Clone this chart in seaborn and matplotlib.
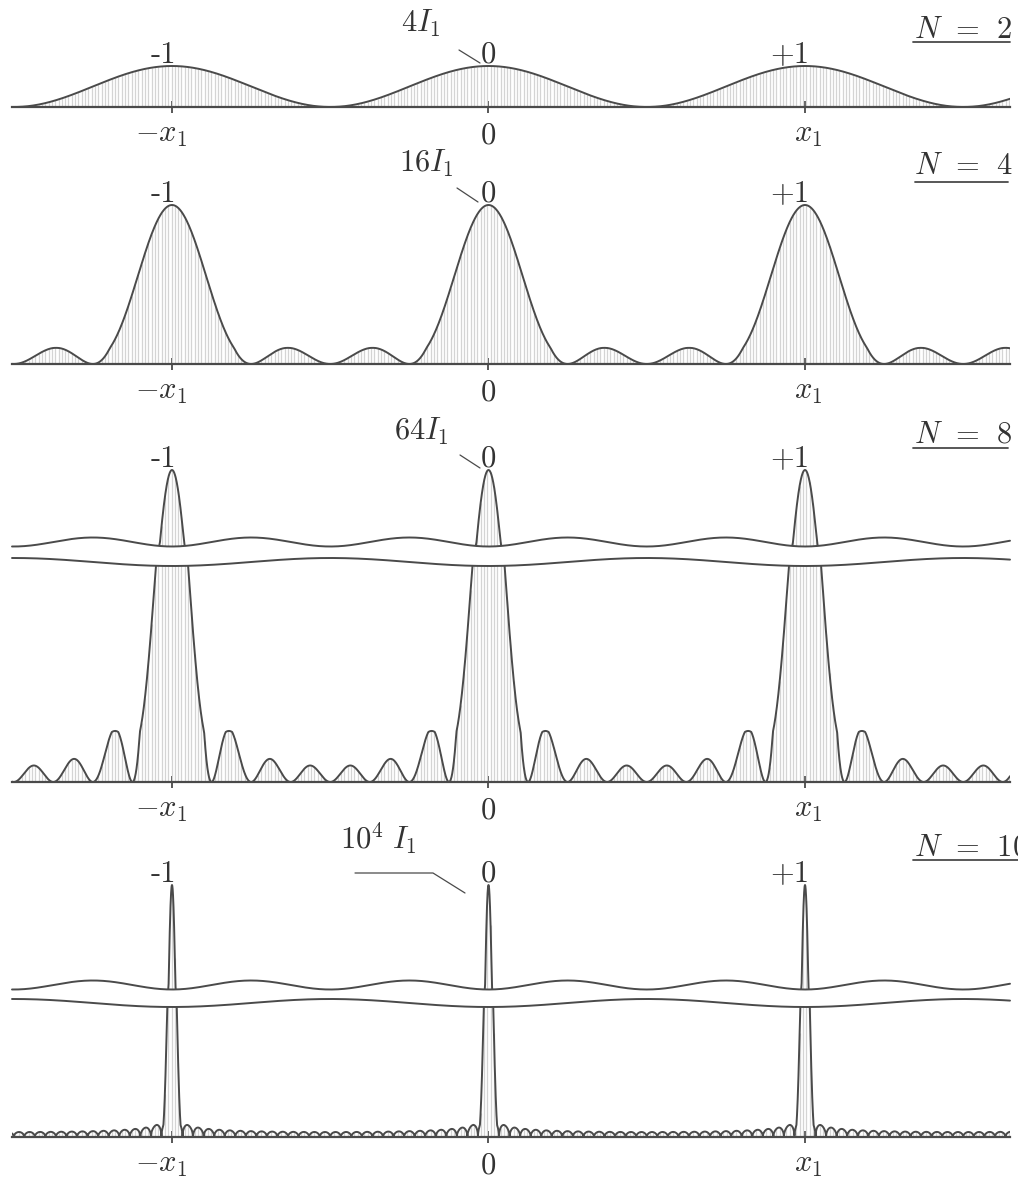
import numpy as np
import matplotlib
matplotlib.use("Agg")
import matplotlib.pyplot as plt
import seaborn as sns
from matplotlib.path import Path
from matplotlib.lines import Line2D
from matplotlib.transforms import blended_transform_factory

# ---- data -------------------------------------------------------------
slits = [2, 4, 8, 100]                 # number of slits N in each pattern
fringes_drawn = [2, 4, 8, 30]          # subsidiary-fringe count used for drawing
orders = [-1, 0, 1]                    # principal maxima (in units of x1)
order_labels = ["-1", "0", "+1"]
position_labels = [r"$-x_1$", r"$0$", r"$x_1$"]
peak_labels = [r"$4I_1$", r"$16I_1$", r"$64I_1$", r"$10^4\;I_1$"]
slit_labels = [r"$N\:\:=\:\:2$", r"$N\:\:=\:\:4$", r"$N\:\:=\:\:8$",
               r"$N\:\:=\:\:100$"]
x_window = (-1.5055, 1.6477)

# ---- style ------------------------------------------------------------
sns.set_theme(style="white")
plt.rcParams["mathtext.fontset"] = "cm"
plt.rcParams["font.family"] = ["DejaVu Sans"]

W, H = 1018, 1185
LINE = "#4a4a4a"
HATCH = "#d4d4d4"
TEXT = "#333333"
FS = 22

fig = plt.figure(figsize=(W / 100, H / 100), dpi=100)


def fx(px):
    return px / W


def fy(py):
    return 1 - py / H


def intensity(x, n, m):
    """Grating pattern I/I1 with peak N^2 and m subsidiary-fringe spacing."""
    s = np.sin(np.pi * x)
    with np.errstate(divide="ignore", invalid="ignore"):
        r = np.sin(m * np.pi * x) / (m * s)
    r = np.where(np.abs(s) < 1e-12, 1.0, r)
    return n ** 2 * r ** 2


def make_scale(knots, power=None):
    ky = np.array([k[0] for k in knots], float)
    kd = np.array([k[1] for k in knots], float)
    s_lo = (kd[1] - kd[0]) / (ky[1] - ky[0])
    s_hi = (kd[-1] - kd[-2]) / (ky[-1] - ky[-2])
    A = kd[0] / ky[0] ** power if power else None

    def fwd(y):
        y = np.asarray(y, float)
        d = np.interp(y, ky, kd)
        d = np.where(y > ky[-1], kd[-1] + (y - ky[-1]) * s_hi, d)
        if power:
            low = A * np.sign(y) * np.abs(y) ** power
        else:
            low = kd[0] + (y - ky[0]) * s_lo
        return np.where(y < ky[0], low, d)

    def inv(d):
        d = np.asarray(d, float)
        y = np.interp(d, kd, ky)
        y = np.where(d > kd[-1], ky[-1] + (d - kd[-1]) / s_hi, y)
        if power:
            low = np.sign(d) * (np.abs(d) / A) ** (1.0 / power)
        else:
            low = ky[0] + (d - kd[0]) / s_lo
        return np.where(d < kd[0], low, y)

    return fwd, inv


# panel geometry (pixels) and broken-axis display scales
layout = [
    dict(base=107, knots=[(0, 0), (4, 41)], power=None, breaks=None,
         label=(401, 32), leader=[(459, 50), (480, 63)],
         nlab=(914, 38), ul=(913, 1010, 42)),
    dict(base=364, knots=[(0, 0), (1.17, 16), (16, 159)], power=None, breaks=None,
         label=(399, 172), leader=[(457, 188), (478, 202)],
         nlab=(914, 174), ul=(915, 1008, 182)),
    dict(base=782, knots=[(0, 0), (3.15, 50), (37, 220), (47, 240), (64, 312)],
         power=None, breaks=(220, 240),
         label=(394, 440), leader=[(460, 455), (480, 468)],
         nlab=(914, 443), ul=(913, 1008, 448)),
    dict(base=1137, knots=[(470, 12), (5000, 134), (7000, 152), (10000, 252)],
         power=0.234, breaks=(134, 152),
         label=(340, 850), leader=[(355, 873), (433, 873), (465, 893)],
         nlab=(914, 855), ul=(913, 1018, 860)),
]

xs = np.linspace(x_window[0], x_window[1], 24001)
xh = np.arange(x_window[0], x_window[1], 0.0105)

for n, m, plab, nlab, g in zip(slits, fringes_drawn, peak_labels, slit_labels, layout):
    fwd, inv = make_scale(g["knots"], g["power"])
    peak = n ** 2
    ytop = peak * 1.03
    dtop = float(fwd(ytop))
    ax = fig.add_axes([fx(12), fy(g["base"]), 998 / W, dtop / H])
    ax.set_yscale("function", functions=(fwd, inv))

    ys = intensity(xs, n, m)
    sns.lineplot(x=xs, y=ys, ax=ax, color=LINE, linewidth=1.4,
                 estimator=None, sort=False)
    curve = ax.lines[-1]
    hatch = ax.vlines(xh, 0, intensity(xh, n, m), color=HATCH, linewidth=0.9,
                      zorder=1)

    ax.set_xlim(*x_window)
    ax.set_ylim(0, ytop)

    if g["breaks"] is not None:
        dL, dU = g["breaks"]
        tr = blended_transform_factory(ax.transData, ax.transAxes)
        xw = np.linspace(x_window[0] - 0.05, x_window[1] + 0.05, 800)
        low_w = (dL - 4.0 * np.cos(2 * np.pi * xw)) / dtop
        up_w = (dU - 4.5 * np.cos(4 * np.pi * xw)) / dtop
        v_low = [(xw[0], -0.5), (xw[-1], -0.5)] + list(zip(xw[::-1], low_w[::-1]))
        v_up = [(xw[0], 1.5), (xw[-1], 1.5)] + list(zip(xw[::-1], up_w[::-1]))
        verts = v_low + [v_low[0]] + v_up + [v_up[0]]
        codes = ([Path.MOVETO] + [Path.LINETO] * (len(v_low) - 1) + [Path.CLOSEPOLY]
                 + [Path.MOVETO] + [Path.LINETO] * (len(v_up) - 1) + [Path.CLOSEPOLY])
        clip = Path(verts, codes)
        curve.set_clip_path(clip, tr)
        hatch.set_clip_path(clip, tr)
        xv = np.linspace(x_window[0], x_window[1], 800)
        ax.plot(xv, (dL - 4.0 * np.cos(2 * np.pi * xv)) / dtop, transform=tr,
                color=LINE, linewidth=1.4, clip_on=False)
        ax.plot(xv, (dU - 4.5 * np.cos(4 * np.pi * xv)) / dtop, transform=tr,
                color=LINE, linewidth=1.4, clip_on=False)

    # axis line with order ticks
    for s in ("top", "right", "left"):
        ax.spines[s].set_visible(False)
    ax.spines["bottom"].set_linewidth(1.6)
    ax.spines["bottom"].set_color(LINE)
    ax.set_yticks([])
    ax.set_xticks(orders)
    ax.set_xticklabels([])
    ax.tick_params(axis="x", direction="inout", length=8, width=1.3,
                   color=LINE, bottom=True)
    ax.grid(False)
    ax.patch.set_alpha(0)

    # position labels under the axis
    for o, lab, dx in zip(orders, position_labels, (-8, 0, 2)):
        ax.annotate(lab, xy=(o, 0), xytext=(dx, -20), textcoords="offset points",
                    ha="center", va="center", fontsize=FS, color=TEXT,
                    annotation_clip=False)
    # diffraction orders over the principal maxima
    for o, lab in zip(orders, order_labels):
        ha = "center" if o == 0 else "right"
        dx = 0 if o == 0 else 3
        ax.annotate(lab, xy=(o, peak), xytext=(dx, 2.5), textcoords="offset points",
                    ha=ha, va="baseline", fontsize=FS, color=TEXT,
                    fontfamily="cmr10", annotation_clip=False)

    # peak intensity label with leader line
    lx, ly = g["label"]
    fig.text(fx(lx), fy(ly), plab, ha="left", va="baseline", fontsize=FS, color=TEXT)
    pts = np.array(g["leader"], float)
    fig.add_artist(Line2D(fx(pts[:, 0]), fy(pts[:, 1]), color=LINE, linewidth=0.9))

    # slit count, underlined
    nx, ny = g["nlab"]
    fig.text(fx(nx), fy(ny), nlab, ha="left", va="baseline", fontsize=FS, color=TEXT)
    u0, u1, uy = g["ul"]
    fig.add_artist(Line2D([fx(u0), fx(u1)], [fy(uy), fy(uy)], color=LINE,
                          linewidth=1.3))

fig.savefig("out.png", dpi=100, facecolor="white")
